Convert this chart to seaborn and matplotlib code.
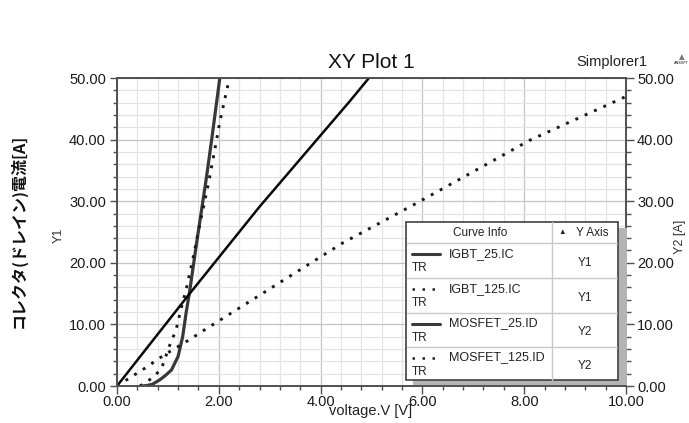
import matplotlib
matplotlib.use("Agg")
import matplotlib.pyplot as plt
from matplotlib.ticker import MultipleLocator, FormatStrFormatter
from matplotlib.patches import Rectangle
import seaborn as sns
import pandas as pd

# ---- data ----
igbt25_v = [0.50, 0.60, 0.70, 0.84, 0.95, 1.07, 1.20, 1.29, 1.36, 1.43, 1.56, 1.76, 1.86, 2.02]
igbt25_a = [0.0, 0.1, 0.3, 1.0, 1.7, 2.6, 4.8, 8.0, 12.0, 15.5, 23.0, 34.0, 40.0, 50.0]

igbt125_v = [0.45, 0.55, 0.71, 0.87, 0.94, 1.00, 1.07, 1.14, 1.20, 1.23, 1.30, 1.37, 1.50, 1.63, 1.79, 1.92, 2.02, 2.18, 2.21]
igbt125_a = [0.0, 0.5, 1.4, 2.8, 4.3, 5.9, 7.3, 8.7, 10.3, 11.6, 13.8, 16.1, 21.0, 26.4, 32.6, 38.3, 42.9, 48.9, 50.0]

mos25_v = [0.0, 1.38, 2.80, 4.57, 4.95]
mos25_a = [0.0, 14.5, 29.1, 46.2, 50.0]

mos125_v = [0.0, 0.55, 0.92, 1.46, 1.66, 4.43, 5.89, 8.11, 10.0]
mos125_a = [0.0, 2.9, 5.0, 7.7, 8.8, 23.2, 29.7, 39.9, 47.0]

curve_names = ["IGBT_25.IC", "IGBT_125.IC", "MOSFET_25.ID", "MOSFET_125.ID"]
curve_axes = ["Y1", "Y1", "Y2", "Y2"]

x_ticks = [0, 2, 4, 6, 8, 10]
y_ticks = [0, 10, 20, 30, 40, 50]

sns.set_theme(style="white")
plt.rcParams['font.family'] = ['Liberation Sans', 'DejaVu Sans']

W, H = 689, 423
fig = plt.figure(figsize=(W / 100, H / 100), dpi=100)
fig.patch.set_facecolor("white")

L, R, T, B = 117, 626, 78, 386
ax = fig.add_axes([L / W, 1 - B / H, (R - L) / W, (B - T) / H])
ax.set_facecolor("white")
ax2 = ax.twinx()

dotted = (0, (1, 2.5))
dot_lw = 2.1
df1 = pd.DataFrame({"v": igbt25_v, "a": igbt25_a})
df2 = pd.DataFrame({"v": igbt125_v, "a": igbt125_a})
df3 = pd.DataFrame({"v": mos25_v, "a": mos25_a})
df4 = pd.DataFrame({"v": mos125_v, "a": mos125_a})

sns.lineplot(data=df1, x="v", y="a", ax=ax, color="#383838", lw=2.3, sort=False, estimator=None)
sns.lineplot(data=df2, x="v", y="a", ax=ax, color="#1a1a1a", lw=dot_lw, linestyle=dotted, sort=False, estimator=None)
sns.lineplot(data=df3, x="v", y="a", ax=ax2, color="#0a0a0a", lw=1.8, sort=False, estimator=None)
sns.lineplot(data=df4, x="v", y="a", ax=ax2, color="#1a1a1a", lw=dot_lw, linestyle=dotted, sort=False, estimator=None)

for a in (ax, ax2):
    a.set_xlim(0, 10)
    a.set_ylim(0, 50)
    a.set_yticks(y_ticks)
    a.yaxis.set_minor_locator(MultipleLocator(2))
    a.yaxis.set_major_formatter(FormatStrFormatter("%.2f"))
    for s in a.spines.values():
        s.set_color("#505050")
        s.set_linewidth(1.2)

ax.set_xticks(x_ticks)
ax.xaxis.set_minor_locator(MultipleLocator(0.4))
ax.xaxis.set_major_formatter(FormatStrFormatter("%.2f"))

ax.grid(True, which="major", color="#c4c4c4", lw=0.9)
ax.grid(True, which="minor", color="#e4e4e4", lw=0.9)
ax.set_axisbelow(True)
ax2.grid(False)

tc = "#1a1a1a"
ax.tick_params(axis="y", which="major", direction="out", length=5, width=1, color="#505050",
               labelsize=10.5, labelcolor=tc, pad=3, left=True)
ax.tick_params(axis="y", which="minor", direction="out", length=3, width=1, color="#505050", left=True)
ax.tick_params(axis="x", which="major", direction="out", length=5.5, width=1, color="#505050",
               labelsize=10.5, labelcolor=tc, pad=1, bottom=True)
ax.tick_params(axis="x", which="minor", direction="out", length=3, width=1, color="#505050", bottom=True)
ax2.tick_params(axis="y", which="major", direction="out", length=6, width=1, color="#505050",
                labelsize=10.5, labelcolor=tc, pad=2, right=True)
ax2.tick_params(axis="y", which="minor", direction="out", length=3.5, width=1, color="#505050", right=True)

ax.set_xlabel("")
ax.set_ylabel("")
ax2.set_ylabel("")

# ---- overlay in pixel coordinates for texts and the curve-info table ----
ov = fig.add_axes([0, 0, 1, 1], zorder=10)
ov.set_xlim(0, W)
ov.set_ylim(H, 0)
ov.axis("off")
ov.patch.set_alpha(0)

ov.text(371, 62, "XY Plot 1", ha="center", va="center", fontsize=15, color="#111111")
ov.text(612, 62, "Simplorer1", ha="center", va="center", fontsize=10.5, color="#222222")
ov.text(681, 57, "▲", ha="center", va="center", fontsize=7, color="#777777")
ov.text(681, 63.5, "ANSOFT", ha="center", va="center", fontsize=2.6, color="#555555", weight="bold")

ov.text(371, 411, "voltage.V [V]", ha="center", va="center", fontsize=10.5, color="#222222")
ov.text(59, 235, "Y1", ha="center", va="center", rotation=90, fontsize=9, color="#333333")
ov.text(680, 237, "Y2 [A]", ha="center", va="center", rotation=90, fontsize=9, color="#333333")
ov.text(18, 231, "コレクタ(ドレイン)電流[A]", ha="center", va="center", rotation=90,
        fontsize=11.5, color="#111111", weight="bold", family=["Noto Sans CJK JP", "DejaVu Sans"])

# curve info table
bx0, bx1, by0, by1 = 405.7, 617.7, 222.3, 380.0
ov.add_patch(Rectangle((413, 228), 626.7 - 413, 385 - 228, fc="#b4b4b4", ec="none"))
ov.add_patch(Rectangle((bx0, by0), bx1 - bx0, by1 - by0, fc="white", ec="#404040", lw=1.2))
colx = 551.7
ov.plot([colx, colx], [by0, by1], color="#c8c8c8", lw=1)
row_tops = [243.3, 278.3, 312.7, 346.7]
for yt in row_tops:
    ov.plot([bx0 + 1, bx1 - 1], [yt, yt], color="#c8c8c8", lw=1)
ov.text(480, 233.5, "Curve Info", ha="center", va="center", fontsize=8.5, color="#222222")
ov.text(562, 232, "▲", ha="center", va="center", fontsize=5.5, color="#222222")
ov.text(592, 233.5, "Y Axis", ha="center", va="center", fontsize=8.5, color="#222222")

styles = [dict(ls="-", lw=2.2, color="#3a3a3a"), dict(ls=(0, (1, 3)), lw=1.8, color="#222222"),
          dict(ls="-", lw=2.2, color="#3a3a3a"), dict(ls=(0, (1, 3)), lw=1.8, color="#222222")]
for i, yt in enumerate(row_tops):
    ov.plot([411.5, 440], [yt + 11, yt + 11], **styles[i])
    ov.text(449, yt + 10.5, curve_names[i], ha="left", va="center", fontsize=9, color="#222222")
    ov.text(411.5, yt + 25, "TR", ha="left", va="center", fontsize=8.5, color="#222222")
    ov.text(585, yt + 19.5, curve_axes[i], ha="center", va="center", fontsize=8.5, color="#222222")

fig.savefig("out.png", dpi=100, facecolor="white")
